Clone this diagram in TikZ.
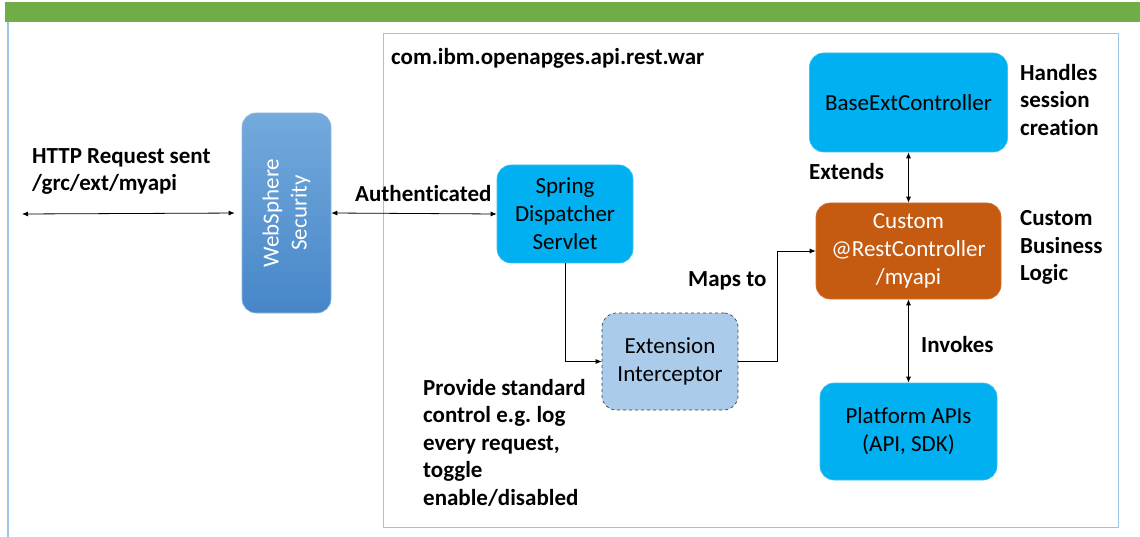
\documentclass[tikz,border=0pt]{standalone}
\usepackage{fontspec}
\setmainfont[Ligatures=CommonOff]{Carlito}
\frenchspacing
\usetikzlibrary{calc,arrows.meta}

\definecolor{barGreen}{HTML}{70AD47}
\definecolor{frameBlue}{HTML}{9DC3E6}
\definecolor{boxCyan}{HTML}{00B0F0}
\definecolor{boxCyanEdge}{HTML}{3FC2F2}
\definecolor{boxOrange}{HTML}{C55A11}
\definecolor{boxPale}{HTML}{AACCEA}
\definecolor{wsTop}{HTML}{74AADC}
\definecolor{wsBottom}{HTML}{4686C8}

\tikzset{
  txt/.style={font=\fontsize{23}{28}\selectfont},
  note/.style={txt,font=\fontsize{23}{27.5}\selectfont\bfseries,
    align=left,inner sep=0pt},
  card/.style={txt,rounded corners=14pt,align=center,inner sep=0pt},
  cyancard/.style={card,fill=boxCyan,draw=boxCyanEdge,line width=0.6pt},
  conn/.style={line width=0.8pt,-{Latex[length=6pt,width=5pt]}},
  biconn/.style={line width=0.8pt,{Latex[length=6pt,width=5pt]}-{Latex[length=6pt,width=5pt]}}
}

\begin{document}
\begin{tikzpicture}[x=1pt,y=-1pt]
  \useasboundingbox (0,0) rectangle (1140,537);
  \fill[barGreen] (5,2) rectangle (1140,22);
  \draw[frameBlue,line width=1.6pt] (8,22) -- (8,537);
  \draw[frameBlue,line width=1pt] (383,34) rectangle (1118,527);
  \node[txt,font=\fontsize{23}{28}\selectfont\bfseries,anchor=base west,inner sep=0pt]
    (war) at (391,65) {com.ibm.openapges.api.rest.war};

  \node[card,minimum width=89pt,minimum height=200pt,
    top color=wsTop,bottom color=wsBottom,draw=wsTop!80!white,line width=0.6pt]
    (web) at (286.5,213) {};
  \node[txt,white,rotate=90,align=center] (webtxt) at (web.center) {WebSphere\\Security};

  \node[cyancard,minimum width=136pt,minimum height=98pt] (spring) at (565,214)
    {Spring\\Dispatcher\\Servlet};
  \node[card,fill=boxPale,draw=black!75,dashed,line width=0.7pt,
    minimum width=136pt,minimum height=97pt] (ext) at (670,361.5)
    {Extension\\Interceptor};
  \node[cyancard,minimum width=198pt,minimum height=99pt] (base) at (908.5,102.5)
    {BaseExtController};
  \node[card,fill=boxOrange,draw=boxOrange!85!white,line width=0.6pt,text=white,
    minimum width=185pt,minimum height=96pt] (custom) at (908.5,251)
    {Custom\\@RestController\\/myapi};
  \node[cyancard,minimum width=177pt,minimum height=97pt] (platform) at (908.5,431.5)
    {Platform APIs\\(API, SDK)};

  \coordinate (client) at (22,214);
  \draw[biconn,shorten >=7pt] (client) -- (web.west);
  \draw[biconn] (web.east) -- (spring.west);
  \draw[conn] (spring.south) |- (ext.west);
  \draw[conn] (ext.east) -- +(39,0) |- (custom.west);
  \draw[biconn] (base.south) -- (custom.north);
  \draw[biconn] (custom.south) -- (platform.north);

  \node[note,anchor=north west] (http) at (32,144)
    {\strut HTTP Request sent\\/grc/ext/myapi};
  \node[note,anchor=base west] (auth) at (355,202) {Authenticated};
  \node[note,anchor=base west] (maps) at (688,287) {Maps to};
  \node[note,anchor=base west] (extends) at (809,180) {Extends};
  \node[note,anchor=base west] (invokes) at (921,352) {Invokes};
  \node[note,anchor=north west] (session) at (1020,61)
    {\strut Handles\\session\\creation};
  \node[note,anchor=north west] (logic) at (1020,206.5)
    {\strut Custom\\Business\\Logic};
  \node[note,anchor=north west] (provide) at (423,376)
    {\strut Provide standard\\control e.g. log\\every request,\\toggle\\enable/disabled};
\end{tikzpicture}
\end{document}
